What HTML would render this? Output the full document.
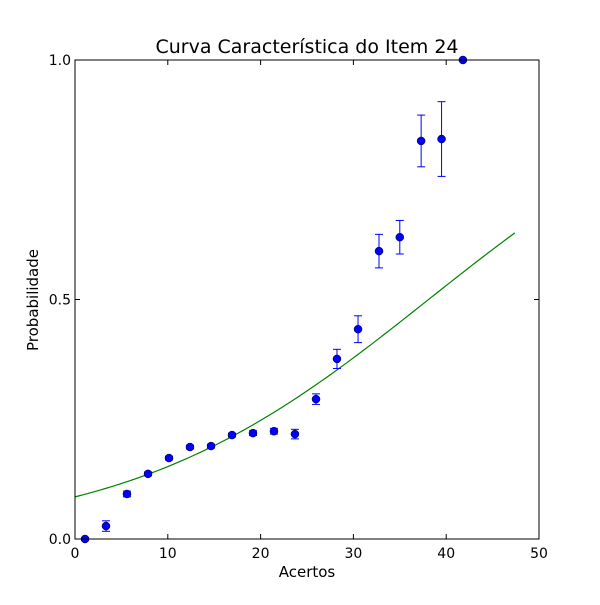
<!DOCTYPE html>
<html><head><meta charset="utf-8"><style>
body{margin:0;background:#fff;}
svg text{font-family:"DejaVu Sans","Liberation Sans",sans-serif;fill:#000;}
</style></head><body>
<svg width="600" height="600" viewBox="0 0 600 600">
<rect width="600" height="600" fill="#fff"/>
<g id="marks"></g>
<g id="axes"></g>
</svg>
<script>
const xs=[1.08,3.34,5.6,7.87,10.13,12.39,14.66,16.92,19.18,21.44,23.7,25.97,28.23,30.5,32.76,35.0,37.3,39.5,41.8];
const ys=[0,0.027,0.094,0.136,0.169,0.192,0.194,0.217,0.221,0.225,0.219,0.292,0.376,0.438,0.601,0.63,0.831,0.835,1.0];
const errs=[0.003,0.011,0.006,0.004,0.004,0.004,0.004,0.004,0.005,0.006,0.01,0.011,0.02,0.028,0.035,0.035,0.054,0.078,0];
const curveParams=[0.0614,38.1];
const xTicks=[0,10,20,30,50,40];
const yTicks=[0,0.5,1.0];
const yTickLabels=["0.0","0.5","1.0"];
const L=75,R=539,T=60,B=539;
const X=v=>L+(v-0)/50*(R-L);
const Y=v=>B-v*(B-T);
const NS="http://www.w3.org/2000/svg";
function mk(tag,attrs,parent){const e=document.createElementNS(NS,tag);for(const k in attrs)e.setAttribute(k,attrs[k]);parent.appendChild(e);return e;}
const marks=document.getElementById('marks'),axes=document.getElementById('axes');
// curve
let d="";
for(let i=0;i<=100;i++){const x=47.4*i/100;const y=1/(1+Math.exp(-curveParams[0]*(x-curveParams[1])));d+=(i?"L":"M")+X(x).toFixed(2)+","+Y(y).toFixed(2);}
const c=mk('path',{d:d,fill:'none',stroke:'#008000','stroke-width':1.2},marks);


// points
xs.forEach((x,i)=>{
 const g=mk('g',{},marks);
 
 
 const px=X(x),y0=Y(ys[i]-errs[i]),y1=Y(ys[i]+errs[i]);
 if(errs[i]>0.002){
  mk('line',{x1:px,x2:px,y1:y0,y2:y1,stroke:'#0000ff','stroke-width':1},g);
  mk('line',{x1:px-4,x2:px+4,y1:y0,y2:y0,stroke:'#0000ff','stroke-width':1},g);
  mk('line',{x1:px-4,x2:px+4,y1:y1,y2:y1,stroke:'#0000ff','stroke-width':1},g);
 }
 mk('circle',{cx:px,cy:Y(ys[i]),r:4,fill:'#0000ff',stroke:'#000','stroke-width':0.5},g);
});
// frame
const f=mk('rect',{x:L,y:T,width:R-L,height:B-T,fill:'none',stroke:'#000','stroke-width':1},axes);


xTicks.forEach(v=>{
 const px=X(v);
 mk('line',{x1:px,x2:px,y1:B,y2:B-5,stroke:'#000'},axes);
 mk('line',{x1:px,x2:px,y1:T,y2:T+5,stroke:'#000'},axes);
 const t=mk('text',{x:px,y:B+19,'text-anchor':'middle','font-size':14},axes);
 t.textContent=String(v);
 
 
});
yTicks.forEach((v,i)=>{
 const py=Y(v);
 mk('line',{x1:L,x2:L+5,y1:py,y2:py,stroke:'#000'},axes);
 mk('line',{x1:R,x2:R-5,y1:py,y2:py,stroke:'#000'},axes);
 const t=mk('text',{x:L-4,y:py+5,'text-anchor':'end','font-size':14},axes);
 t.textContent=yTickLabels[i];
 
 
});
</script>
<svg width="600" height="600" style="position:absolute;left:0;top:0">
<text x="307" y="53" text-anchor="middle" font-size="19">Curva Característica do Item 24</text>
<text x="307" y="577" text-anchor="middle" font-size="15">Acertos</text>
<text x="38" y="300" text-anchor="middle" font-size="15" transform="rotate(-90 38 300)">Probabilidade</text>
</svg>
</body></html>
